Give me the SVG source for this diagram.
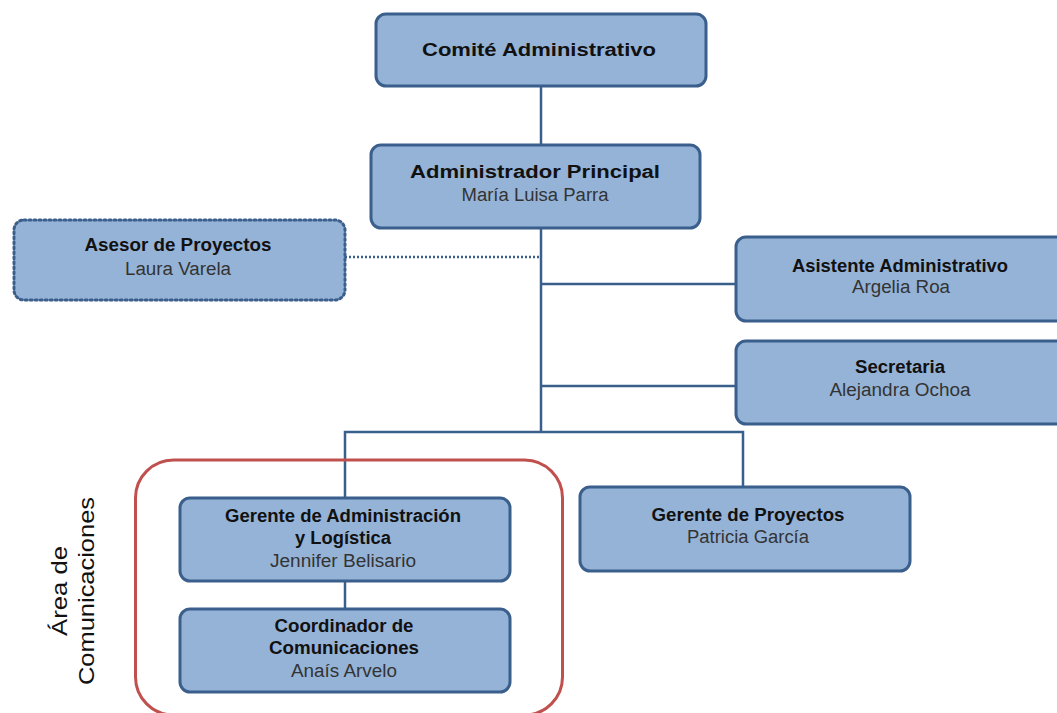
<svg xmlns="http://www.w3.org/2000/svg" width="1057" height="713" viewBox="0 0 1057 713">
<style>
.box{fill:#95b3d7;stroke:#3b5f8c;stroke-width:3}
.dot{stroke-dasharray:2 3;stroke-linecap:round}
.t{font-family:"Liberation Sans",Arial,sans-serif;font-weight:bold;fill:#111;text-anchor:middle;font-size:18px}
.n{font-family:"Liberation Sans",Arial,sans-serif;fill:#333;text-anchor:middle;font-size:18px}
.c{stroke:#3b5f8c;stroke-width:2.5;fill:none}
</style>
<rect width="1057" height="713" fill="#fff"/>
<g id="connectors">
<line class="c" x1="541" y1="86" x2="541" y2="145"/>
<line class="c" x1="541" y1="228" x2="541" y2="432"/>
<line class="c" x1="541" y1="284" x2="736" y2="284"/>
<line class="c" x1="541" y1="386" x2="736" y2="386"/>
<line class="c" x1="345" y1="257" x2="541" y2="257" stroke-dasharray="2 2"/>
<polyline class="c" points="345,498 345,432 743,432 743,487"/>
<line class="c" x1="345" y1="581" x2="345" y2="609"/>
</g>
<g id="area">
<rect x="135.5" y="460" width="427" height="255" rx="38" fill="none" stroke="#c0504d" stroke-width="3"/>
<text transform="translate(0,591) rotate(-90)" font-family="Liberation Sans,Arial,sans-serif" font-size="22" fill="#111" text-anchor="middle"><tspan x="0" y="67" textLength="90" lengthAdjust="spacingAndGlyphs">Área de</tspan><tspan x="0" y="94" textLength="188" lengthAdjust="spacingAndGlyphs">Comunicaciones</tspan></text>
</g>
<g id="comite">
<rect class="box" x="376" y="14" width="330" height="72" rx="10"/>
<text class="t" x="539" y="56" font-size="21" textLength="234" lengthAdjust="spacingAndGlyphs">Comité Administrativo</text>
</g>
<g id="admin">
<rect class="box" x="371" y="145" width="329" height="83" rx="10"/>
<text class="t" x="535" y="178" font-size="22" textLength="250" lengthAdjust="spacingAndGlyphs">Administrador Principal</text>
<text class="n" x="535" y="201" textLength="147" lengthAdjust="spacingAndGlyphs">María Luisa Parra</text>
</g>
<g id="asesor">
<rect class="box dot" x="14" y="220" width="331" height="80" rx="10"/>
<text class="t" x="178" y="251" textLength="187" lengthAdjust="spacingAndGlyphs">Asesor de Proyectos</text>
<text class="n" x="178" y="275" textLength="106" lengthAdjust="spacingAndGlyphs">Laura Varela</text>
</g>
<g id="asistente">
<rect class="box" x="736" y="237" width="330" height="84" rx="10"/>
<text class="t" x="900" y="272" textLength="216" lengthAdjust="spacingAndGlyphs">Asistente Administrativo</text>
<text class="n" x="901" y="293" textLength="98" lengthAdjust="spacingAndGlyphs">Argelia Roa</text>
</g>
<g id="secretaria">
<rect class="box" x="736" y="341" width="330" height="83" rx="10"/>
<text class="t" x="900" y="373" textLength="90" lengthAdjust="spacingAndGlyphs">Secretaria</text>
<text class="n" x="900" y="396" textLength="141" lengthAdjust="spacingAndGlyphs">Alejandra Ochoa</text>
</g>
<g id="gerente-admin">
<rect class="box" x="180" y="498" width="330" height="83" rx="10"/>
<text class="t" x="343" y="522" textLength="236" lengthAdjust="spacingAndGlyphs">Gerente de Administración</text>
<text class="t" x="343" y="544" textLength="96" lengthAdjust="spacingAndGlyphs">y Logística</text>
<text class="n" x="343" y="567" textLength="146" lengthAdjust="spacingAndGlyphs">Jennifer Belisario</text>
</g>
<g id="coordinador">
<rect class="box" x="180" y="609" width="330" height="83" rx="10"/>
<text class="t" x="344" y="632" textLength="139" lengthAdjust="spacingAndGlyphs">Coordinador de</text>
<text class="t" x="344" y="654" textLength="150" lengthAdjust="spacingAndGlyphs">Comunicaciones</text>
<text class="n" x="344" y="677" textLength="106" lengthAdjust="spacingAndGlyphs">Anaís Arvelo</text>
</g>
<g id="gerente-proyectos">
<rect class="box" x="580" y="487" width="330" height="84" rx="10"/>
<text class="t" x="748" y="521" textLength="193" lengthAdjust="spacingAndGlyphs">Gerente de Proyectos</text>
<text class="n" x="748" y="543" textLength="122" lengthAdjust="spacingAndGlyphs">Patricia García</text>
</g>
</svg>
